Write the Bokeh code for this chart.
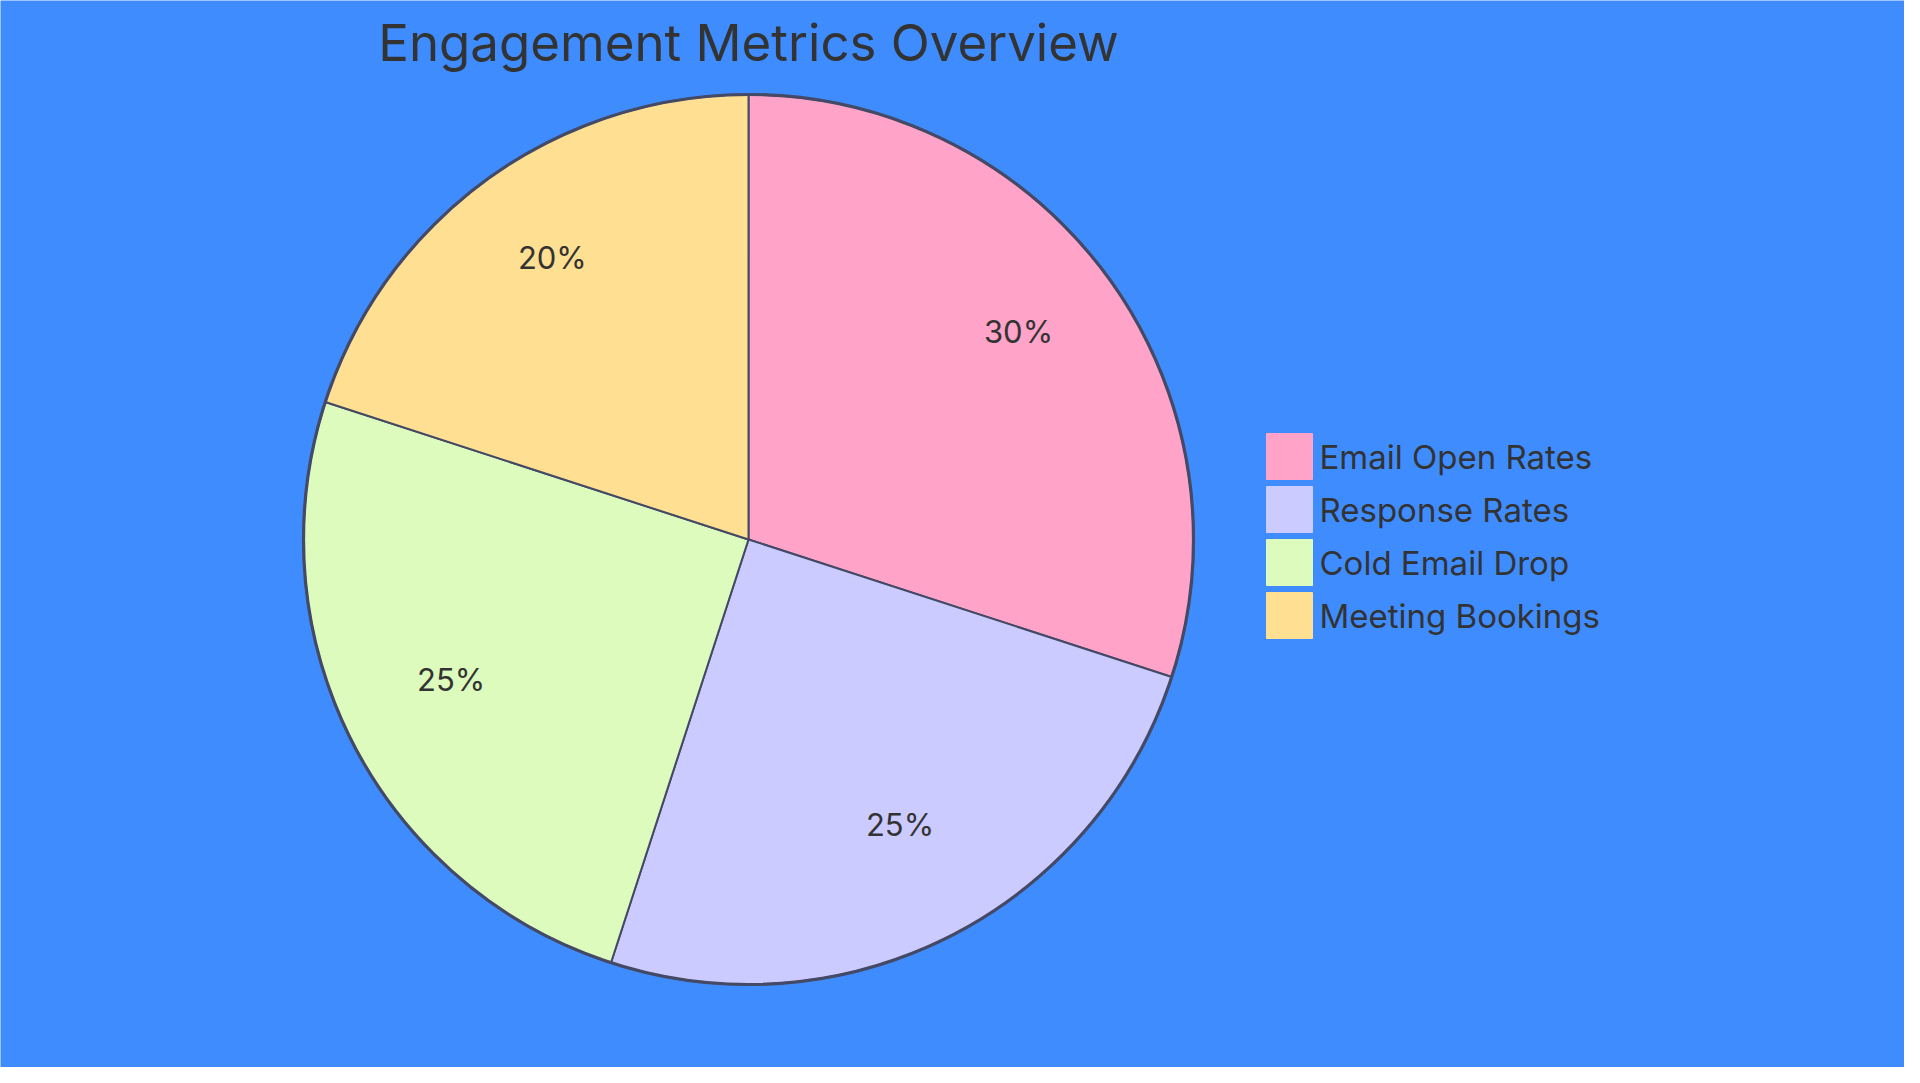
import math

from bokeh.plotting import figure
from bokeh.embed import file_html
from bokeh.resources import INLINE
from bokeh.models import Range1d, ColumnDataSource
from bokeh.core.properties import value

# data
labels = ["Email Open Rates", "Response Rates", "Cold Email Drop", "Meeting Bookings"]
shares = [30, 25, 25, 20]
colors = ["#ffa3c9", "#cbcbff", "#dcfbbd", "#ffdf92"]
title = "Engagement Metrics Overview"

BG = "#3f8cff"
INK = "#333333"
EDGE = "#444a66"
FONT = "Inter"

W, H = 1904, 1067
cx, cy, r = 748, 528, 445

p = figure(width=W, height=H, x_range=Range1d(0, W), y_range=Range1d(0, H),
           output_backend="svg", toolbar_location=None, min_border=0)
p.axis.visible = False
p.grid.visible = False
p.outline_line_color = None
p.background_fill_color = BG
p.border_fill_color = BG

total = sum(shares)
starts, ends, lx, ly, texts = [], [], [], [], []
acc = 0
for s in shares:
    a0 = math.pi / 2 - 2 * math.pi * acc / total
    acc += s
    a1 = math.pi / 2 - 2 * math.pi * acc / total
    starts.append(a0)
    ends.append(a1)
    mid = (a0 + a1) / 2
    lx.append(cx + 0.75 * r * math.cos(mid))
    ly.append(cy + 0.75 * r * math.sin(mid))
    texts.append(f"{round(100 * s / total)}%")

src = ColumnDataSource(dict(start=starts, end=ends, color=colors))
p.wedge(x=cx, y=cy, radius=r, start_angle="start", end_angle="end",
        direction="clock", fill_color="color", line_color=EDGE,
        line_width=2, source=src)
p.circle(x=cx, y=cy, radius=r, fill_color=None, line_color=EDGE, line_width=3.2)

# percentage labels: centred a little above the slice centroid
p.text(x=lx, y=ly, text=texts, text_font=value(FONT), text_font_size="31px",
       text_color=INK, text_align="center", text_baseline="middle",
       y_offset=-12)

# title
p.text(x=[cx], y=[1025], text=[title], text_font=value(FONT),
       text_font_size="51px", text_color=INK, text_align="center",
       text_baseline="alphabetic")

# legend
ys = [611 - 53 * i for i in range(len(labels))]
p.rect(x=[1289] * len(labels), y=ys, width=46, height=46,
       width_units="screen", height_units="screen",
       fill_color=colors, line_color=colors)
p.text(x=[1319] * len(labels), y=ys, text=labels, text_font=value(FONT),
       text_font_size="33px", text_color=INK, text_align="left",
       text_baseline="middle")

open("out.html", "w").write(file_html(p, INLINE))
